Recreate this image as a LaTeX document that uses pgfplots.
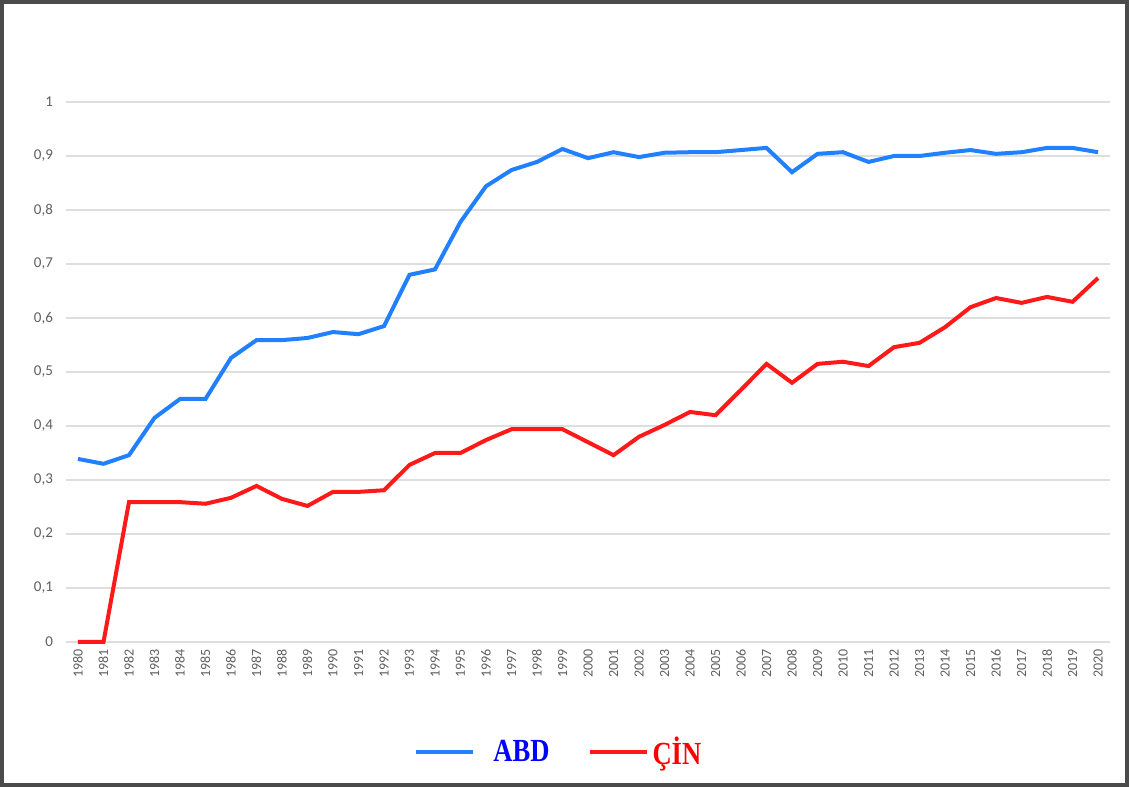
\documentclass[border=0pt]{standalone}
\usepackage{pgfplots}
\pgfplotsset{compat=1.18}
\usepackage{fontspec}
\setmainfont{Carlito}
\newfontfamily\legfont{Liberation Serif}
\definecolor{abd}{RGB}{33,128,255}
\definecolor{cin}{RGB}{255,25,25}
\definecolor{gridc}{RGB}{222,222,222}
\definecolor{tickc}{RGB}{95,95,95}
\definecolor{framec}{RGB}{75,75,75}
\begin{document}
\begin{tikzpicture}[x=1pt,y=1pt]
\path[use as bounding box] (0,0) rectangle (564.5,393.5);
\draw[framec, line width=1.8pt] (0.9,0.9) rectangle (563.6,392.6);
\begin{axis}[
  at={(33pt,72.5pt)}, anchor=south west,
  scale only axis, width=522pt, height=270pt,
  xmin=1979.53, xmax=2020.47, ymin=0, ymax=1,
  clip=false,
  axis line style={draw=none},
  major tick length=0pt,
  ymajorgrids, grid style={gridc, line width=1pt},
  xtick={1980,1981,...,2020},
  ytick={0,0.1,0.2,0.3,0.4,0.5,0.6,0.7,0.8,0.9,1},
  /pgf/number format/assume math mode=true,
  /pgf/number format/use comma,
  x tick label style={rotate=90, anchor=east, font=\fontsize{7}{7}\selectfont, text=tickc, /pgf/number format/1000 sep={}},
  y tick label style={xshift=-3pt, font=\fontsize{7.5}{7.5}\selectfont, text=tickc, /pgf/number format/fixed, /pgf/number format/precision=1},
  legend style={at={(0.473,-0.204)}, anchor=center, draw=none, fill=none, legend columns=2,
    font=\legfont\bfseries\fontsize{14}{14}\selectfont,
    /tikz/every even column/.append style={column sep=17pt}},
  legend image code/.code={\draw[#1, line width=2pt] (0pt,0pt) -- (28.5pt,0pt);},
]
\addplot[abd, line width=2pt] coordinates {
(1980,0.339)(1981,0.330)(1982,0.346)(1983,0.415)(1984,0.450)(1985,0.450)
(1986,0.526)(1987,0.559)(1988,0.559)(1989,0.563)(1990,0.574)(1991,0.570)
(1992,0.585)(1993,0.680)(1994,0.690)(1995,0.778)(1996,0.844)(1997,0.874)
(1998,0.889)(1999,0.913)(2000,0.896)(2001,0.907)(2002,0.898)(2003,0.906)
(2004,0.907)(2005,0.907)(2006,0.911)(2007,0.915)(2008,0.870)(2009,0.904)
(2010,0.907)(2011,0.889)(2012,0.900)(2013,0.900)(2014,0.906)(2015,0.911)
(2016,0.904)(2017,0.907)(2018,0.915)(2019,0.915)(2020,0.907)};
\addlegendentry{\hspace{7pt}\textcolor{blue}{\scalebox{0.95}[1.15]{ABD}}}
\addplot[cin, line width=2pt] coordinates {
(1980,0)(1981,0)(1982,0.259)(1983,0.259)(1984,0.259)(1985,0.256)
(1986,0.267)(1987,0.289)(1988,0.265)(1989,0.252)(1990,0.278)(1991,0.278)
(1992,0.281)(1993,0.328)(1994,0.350)(1995,0.350)(1996,0.374)(1997,0.394)
(1998,0.394)(1999,0.394)(2000,0.370)(2001,0.346)(2002,0.380)(2003,0.402)
(2004,0.426)(2005,0.420)(2006,0.467)(2007,0.515)(2008,0.480)(2009,0.515)
(2010,0.519)(2011,0.511)(2012,0.546)(2013,0.554)(2014,0.583)(2015,0.620)
(2016,0.637)(2017,0.628)(2018,0.639)(2019,0.630)(2020,0.674)};
\addlegendentry{\textcolor{red}{\scalebox{0.95}[1.15]{ÇİN}}}
\end{axis}
\end{tikzpicture}
\end{document}
